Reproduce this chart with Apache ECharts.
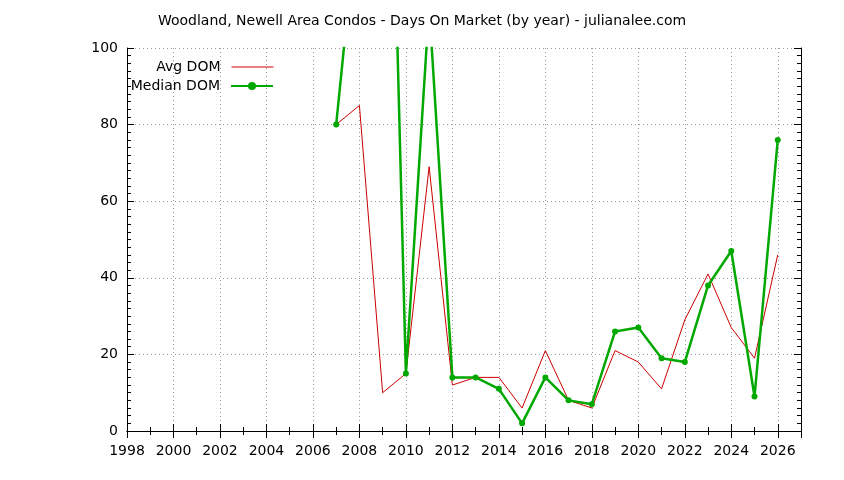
<!DOCTYPE html>
<html>
<head>
    <meta charset="utf-8">
    <title>Woodland, Newell Area Condos - Days On Market</title>
    <script src="https://cdn.jsdelivr.net/npm/echarts@6/dist/echarts.min.js"></script>
    <style>
        html, body { margin: 0; padding: 0; background: #fff; }
        #chart { width: 844px; height: 480px; }
    </style>
</head>
<body>
<div id="chart"></div>
<script>
    // data (median goes off the top in 2008, 2009, 2011)
    var years = [2007, 2008, 2009, 2010, 2011, 2012, 2013, 2014, 2015, 2016,
                 2017, 2018, 2019, 2020, 2021, 2022, 2023, 2024, 2025, 2026];
    var avgDom = [80, 85, 10, 15, 69, 12, 14, 14, 6, 21,
                  8, 6, 21, 18, 11, 29, 41, 27, 19, 46];
    var medianDom = [80, 140, 250, 15, 111, 14, 14, 11, 2, 14,
                     8, 7, 26, 27, 19, 18, 38, 47, 9, 76];
    var xMin = 1998, xMax = 2027, xStep = 2;
    var yMin = 0, yMax = 100, yStep = 20;

    var font = 'DejaVu Sans';
    var myChart = echarts.init(document.getElementById('chart'));

    function pairs(vals) {
        return years.map(function (y, i) { return [y, vals[i]]; });
    }

    var tick = { show: true, inside: true, length: 7, lineStyle: { color: '#000', width: 1 } };
    var minor = { show: true, length: 4, lineStyle: { color: '#000', width: 1 } };
    var grid = { show: true, lineStyle: { color: '#999', width: 1, type: [1, 3] } };
    var legendText = { fontFamily: font, fontSize: 14, color: '#000', padding: [0, 6, 0, 0] };

    myChart.setOption({
        animation: false,
        backgroundColor: '#fff',
        title: {
            text: 'Woodland, Newell Area Condos - Days On Market (by year) - julianalee.com',
            left: 'center',
            top: 9,
            textStyle: { fontFamily: font, fontSize: 14, fontWeight: 'normal', color: '#000' }
        },
        legend: [{
            data: ['Avg DOM'],
            right: 565, top: 55,
            align: 'right',
            itemWidth: 42, itemHeight: 10,
            itemStyle: { opacity: 0 },
            lineStyle: { width: 1 },
            textStyle: legendText
        }, {
            data: ['Median DOM'],
            right: 565, top: 74,
            align: 'right',
            itemWidth: 42, itemHeight: 10,
            textStyle: legendText
        }],
        grid: { left: 127, right: 43, top: 48, bottom: 49 },
        xAxis: [{
            type: 'value', position: 'bottom',
            min: xMin, max: xMax, interval: xStep,
            axisLine: { show: true, lineStyle: { color: '#000' } },
            axisTick: tick,
            minorTick: Object.assign({ splitNumber: 2 }, minor),
            axisLabel: {
                color: '#000', fontFamily: font, fontSize: 14, margin: 13, showMaxLabel: false,
                formatter: function (v) { return String(v); }
            },
            splitLine: grid
        }, {
            type: 'value', position: 'top',
            min: xMin, max: xMax, interval: xStep,
            axisLine: { show: true, lineStyle: { color: '#000' } },
            axisTick: tick,
            minorTick: Object.assign({ splitNumber: 2 }, minor),
            axisLabel: { show: false },
            splitLine: { show: false }
        }],
        yAxis: [{
            type: 'value', position: 'left',
            min: yMin, max: yMax, interval: yStep,
            axisLine: { show: true, lineStyle: { color: '#000' } },
            axisTick: tick,
            minorTick: Object.assign({ splitNumber: 10 }, minor),
            axisLabel: { color: '#000', fontFamily: font, fontSize: 14, margin: 9 },
            splitLine: grid
        }, {
            type: 'value', position: 'right',
            min: yMin, max: yMax, interval: yStep,
            axisLine: { show: true, lineStyle: { color: '#000' } },
            axisTick: tick,
            minorTick: Object.assign({ splitNumber: 10 }, minor),
            axisLabel: { show: false },
            splitLine: { show: false }
        }],
        series: [{
            name: 'Avg DOM',
            type: 'line',
            data: pairs(avgDom),
            symbol: 'none',
            clip: true,
            color: '#cc0000',
            lineStyle: { color: '#cc0000', width: 1 }
        }, {
            name: 'Median DOM',
            type: 'line',
            data: pairs(medianDom),
            symbol: 'circle',
            symbolSize: 6,
            showAllSymbol: true,
            clip: true,
            color: '#00a800',
            itemStyle: { color: '#00a800' },
            lineStyle: { color: '#00a800', width: 2.5 }
        }]
    });
</script>
</body>
</html>
